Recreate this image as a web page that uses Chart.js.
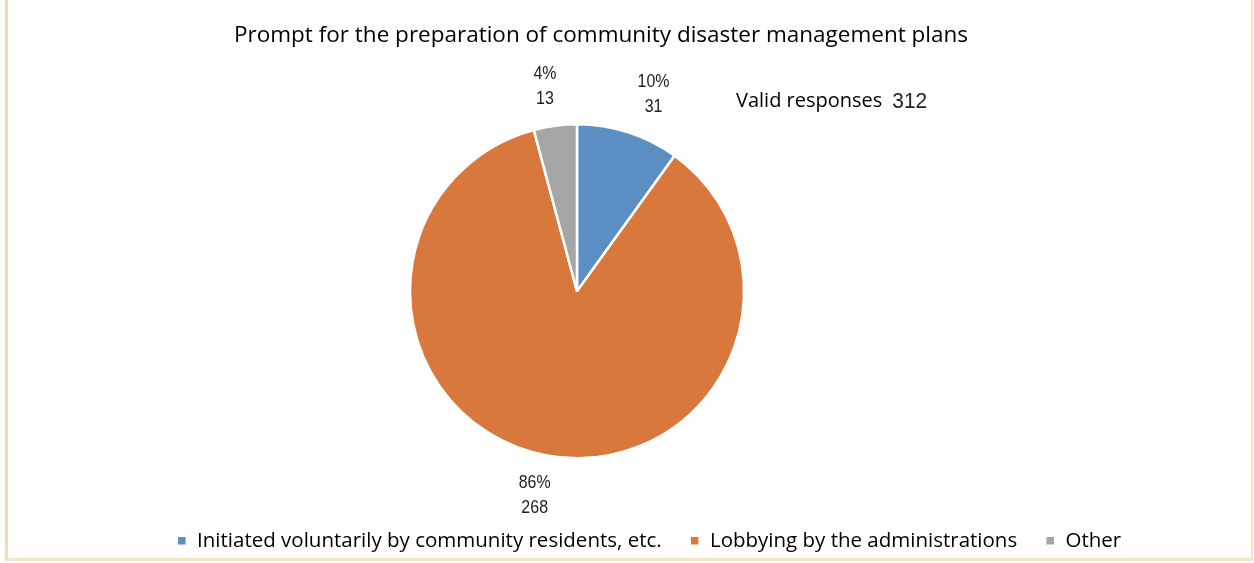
<!DOCTYPE html>
<html>
<head>
<meta charset="utf-8">
<script src="https://cdn.jsdelivr.net/npm/chart.js@4/dist/chart.umd.min.js"></script>
<style>
  html, body { margin: 0; padding: 0; background: #ffffff; }
  #wrap { position: relative; width: 1254px; height: 563px; overflow: hidden; }
  #frame {
    position: absolute; left: 5px; top: -4px; width: 1243px; height: 562px;
    border-left: 3px solid #f0deb0; border-right: 2px solid #f3e3bd; border-bottom: 3px solid #f5e6c0;
    pointer-events: none;
  }
  canvas { position: absolute; left: 0; top: 0; }
</style>
</head>
<body>
<div id="wrap">
  <canvas id="c" width="1254" height="563"></canvas>
  <div id="frame"></div>
</div>
<script>
// Survey: how community disaster management plans came to be prepared
const titleText = 'Prompt for the preparation of community disaster management plans';
const categories = [
  'Initiated voluntarily by community residents, etc.',
  'Lobbying by the administrations',
  'Other'
];
const responses = [31, 268, 13];
const sliceColors = ['#5b8fc3', '#d9783c', '#a6a6a6'];
const totalLabel = 'Valid responses';

const total = responses.reduce((a, b) => a + b, 0);

const sansFont = "'Open Sans', 'DejaVu Sans', sans-serif";
const numFont = "'Liberation Sans', Arial, sans-serif";

// Numbers are set in a condensed style: draw with a horizontal squeeze
function narrowText(ctx, text, x, y, size, align, squeeze) {
  ctx.save();
  ctx.font = size + 'px ' + numFont;
  ctx.textAlign = align;
  ctx.translate(x, y);
  ctx.scale(squeeze, 1);
  ctx.fillText(text, 0, 0);
  ctx.restore();
}

// Move title and legend blocks after layout so they sit where the page design wants them
const blockOffsets = {
  id: 'blockOffsets',
  afterLayout(chart) {
    const lg = chart.legend;
    if (lg) {
      const dx = 72, dy = -2;
      lg.left += dx; lg.right += dx; lg.top += dy; lg.bottom += dy;
    }
    const tb = chart.titleBlock;
    if (tb) {
      const dx = 24;
      tb.left += dx; tb.right += dx;
    }
  }
};

// Percent / count labels outside each slice, plus the total note
const sliceLabels = {
  id: 'sliceLabels',
  afterDatasetsDraw(chart) {
    const ctx = chart.ctx;
    const meta = chart.getDatasetMeta(0);
    ctx.save();
    ctx.fillStyle = '#222222';
    ctx.textBaseline = 'middle';
    meta.data.forEach((arc, i) => {
      const p = arc.getProps(['x', 'y', 'startAngle', 'endAngle', 'outerRadius'], true);
      const mid = (p.startAngle + p.endAngle) / 2;
      const d = p.outerRadius + 40;
      const c = Math.cos(mid), s = Math.sin(mid);
      const px = p.x + c * d + Math.sign(c) * 9 + 4;
      const py = p.y + s * d;
      const v = responses[i];
      const pct = Math.round(v / total * 100) + '%';
      narrowText(ctx, pct, px, py - 12.5, 19, 'center', 0.84);
      narrowText(ctx, String(v), px, py + 12.5, 19, 'center', 0.84);
    });
    // total note to the upper right of the pie
    const ca = chart.chartArea;
    const cx = (ca.left + ca.right) / 2;
    const ty = 101;
    ctx.textAlign = 'left';
    ctx.fillStyle = '#000000';
    ctx.font = '20px ' + sansFont;
    const nx = cx + 159;
    ctx.fillText(totalLabel, nx, ty);
    const w = ctx.measureText(totalLabel).width;
    ctx.fillStyle = '#222222';
    narrowText(ctx, String(total), nx + w + 10, ty + 1, 22, 'left', 0.95);
    ctx.restore();
  }
};

new Chart(document.getElementById('c'), {
  type: 'pie',
  data: {
    labels: categories,
    datasets: [{
      data: responses,
      backgroundColor: sliceColors,
      borderColor: '#ffffff',
      borderWidth: 2.5
    }]
  },
  options: {
    responsive: false,
    animation: false,
    radius: 167,
    layout: { padding: { left: 0, right: 100, top: 0, bottom: 0 } },
    plugins: {
      title: {
        display: true,
        text: titleText,
        color: '#000000',
        font: { family: sansFont, size: 22.5, weight: 'normal', lineHeight: 1.2 },
        padding: { top: 22, bottom: 29 }
      },
      legend: {
        position: 'bottom',
        labels: {
          boxWidth: 10,
          boxHeight: 10,
          padding: 28,
          color: '#000000',
          font: { family: sansFont, size: 20.5 }
        }
      },
      tooltip: { enabled: false }
    }
  },
  plugins: [blockOffsets, sliceLabels]
});
</script>
</body>
</html>
